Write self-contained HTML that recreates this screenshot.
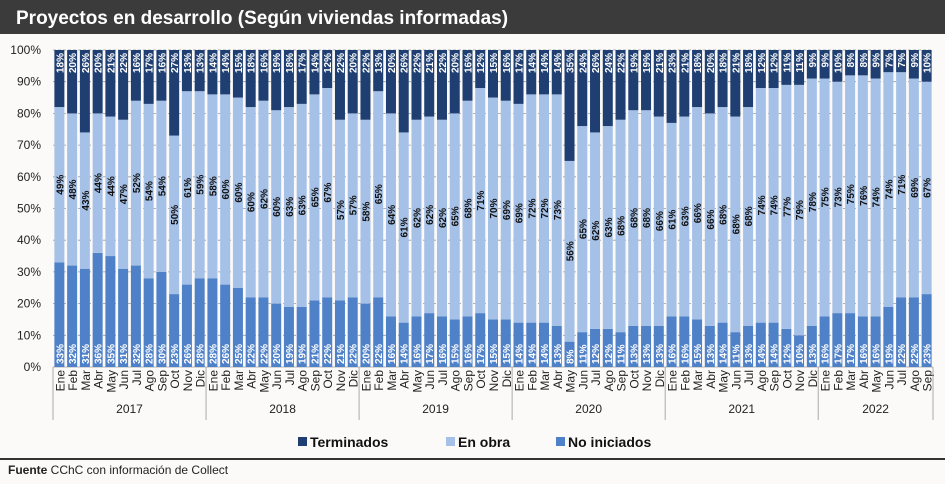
<!DOCTYPE html>
<html><head><meta charset="utf-8"><style>
body{margin:0;width:945px;height:479px;background:#fbfaf8;font-family:"Liberation Sans",sans-serif;overflow:hidden}
</style></head><body>
<svg width="945" height="479" xmlns="http://www.w3.org/2000/svg" id="chart">
<rect x="0" y="0" width="945" height="34" fill="#3b3b3b"/>
<text x="16" y="24" fill="#fff" font-size="19" font-weight="bold">Proyectos en desarrollo (Según viviendas informadas)</text>
<line x1="0" y1="459" x2="945" y2="459" stroke="#333" stroke-width="2"/>
<text x="8" y="474" font-size="12" fill="#222"><tspan font-weight="bold">Fuente</tspan>   CChC con información de Collect</text>
<g id="plot"></g>
</svg>
<script>
const months=["Ene","Feb","Mar","Abr","May","Jun","Jul","Ago","Sep","Oct","Nov","Dic"];
const years=["2017","2018","2019","2020","2021","2022"];
const noIniciados=[33,32,31,36,35,31,32,28,30,23,26,28, 28,26,25,22,22,20,19,19,21,22,21,22, 20,22,16,14,16,17,16,15,16,17,15,15, 14,14,14,13,8,11,12,12,11,13,13,13, 16,16,15,13,14,11,13,14,14,12,10,13, 16,17,17,16,16,19,22,22,23];
const enObra=[49,48,43,44,44,47,52,54,54,50,61,59, 58,60,60,60,62,60,63,63,65,67,57,57, 58,65,64,61,62,62,62,65,68,71,70,69, 69,72,72,73,56,65,62,63,68,68,68,66, 61,63,66,66,68,68,68,74,74,77,79,78, 75,73,75,76,74,74,71,69,67];
const terminados=[18,20,26,20,21,22,16,17,16,27,13,13, 14,14,15,18,16,19,18,17,14,12,22,20, 22,13,20,26,22,21,22,20,16,12,15,16, 17,14,14,14,35,24,26,24,22,19,19,21, 23,21,18,20,18,21,18,12,12,11,11,9, 9,10,8,8,9,7,7,9,10];
const yTicks=[0,10,20,30,40,50,60,70,80,90,100];
const NS="http://www.w3.org/2000/svg";
const g=document.getElementById('plot');
const L=53,R=933,T=50,B=367,N=noIniciados.length,slot=(R-L)/N,bw=10;
const y=v=>B-(B-T)*v/100, x=i=>L+i*slot;
function el(t,a){const e=document.createElementNS(NS,t);for(const k in a)e.setAttribute(k,a[k]);g.appendChild(e);return e;}
yTicks.forEach(v=>{
 const ln=el('line',{x1:L,x2:R,y1:y(v),y2:y(v),stroke:'#999','stroke-width':0.8,'stroke-dasharray':v?'3,2':''});
 
 
 const t=el('text',{x:L-12,y:y(v)+4,'font-size':12,'text-anchor':'end',fill:'#222'});t.textContent=v+'%';
 
 
});
function vlabel(cx,cy,txt,col,anchor){
 const t=el('text',{transform:`translate(${cx+4},${cy}) rotate(-90)`,'font-size':10,'font-weight':'bold',fill:col,'text-anchor':anchor});
 t.textContent=txt;
 
 
}
for(let i=0;i<N;i++){
 const cx=x(i)+slot/2,bx=cx-bw/2;
 const a=noIniciados[i],b=enObra[i],c=terminados[i];
 let r=el('rect',{x:bx,y:y(a),width:bw,height:B-y(a),fill:'#4f81c8'});
 
 
 r=el('rect',{x:bx,y:y(100-c),width:bw,height:y(a)-y(100-c),fill:'#a6c1e7'});
 
 
 r=el('rect',{x:bx,y:T,width:bw,height:y(100-c)-T,fill:'#1f3f72'});
 
 
 vlabel(cx,B-3,a+'%','#fff','start');
 vlabel(cx,(y(a)+y(100-c))/2,b+'%','#111','middle');
 vlabel(cx,T+3,c+'%','#fff','end');
 const m=el('text',{transform:`translate(${cx+5},${B+3}) rotate(-90)`,'font-size':12,fill:'#222','text-anchor':'end'});
 m.textContent=months[i%12];
 
 
}
for(let k=0;k<=years.length;k++){
 const i=Math.min(k*12,N);
 const s=el('line',{x1:x(i),x2:x(i),y1:B,y2:420,stroke:'#aaa','stroke-width':1});
 
 
 if(k<years.length){
  const e=Math.min(k*12+12,N);
  const t=el('text',{x:(x(k*12)+x(e))/2,y:413,'font-size':12,'text-anchor':'middle',fill:'#222'});
  t.textContent=years[k];
  
  
 }
}
[["Terminados","#1f3f72",298],["En obra","#a6c1e7",446],["No iniciados","#4f81c8",556]].forEach(([n,c,lx])=>{
 const r=el('rect',{x:lx,y:437,width:9,height:9,fill:c});
 
 
 const t=el('text',{x:lx+12,y:447,'font-size':14,'font-weight':'bold',fill:'#111'});t.textContent=n;
 
 
});
</script>
</body></html>
